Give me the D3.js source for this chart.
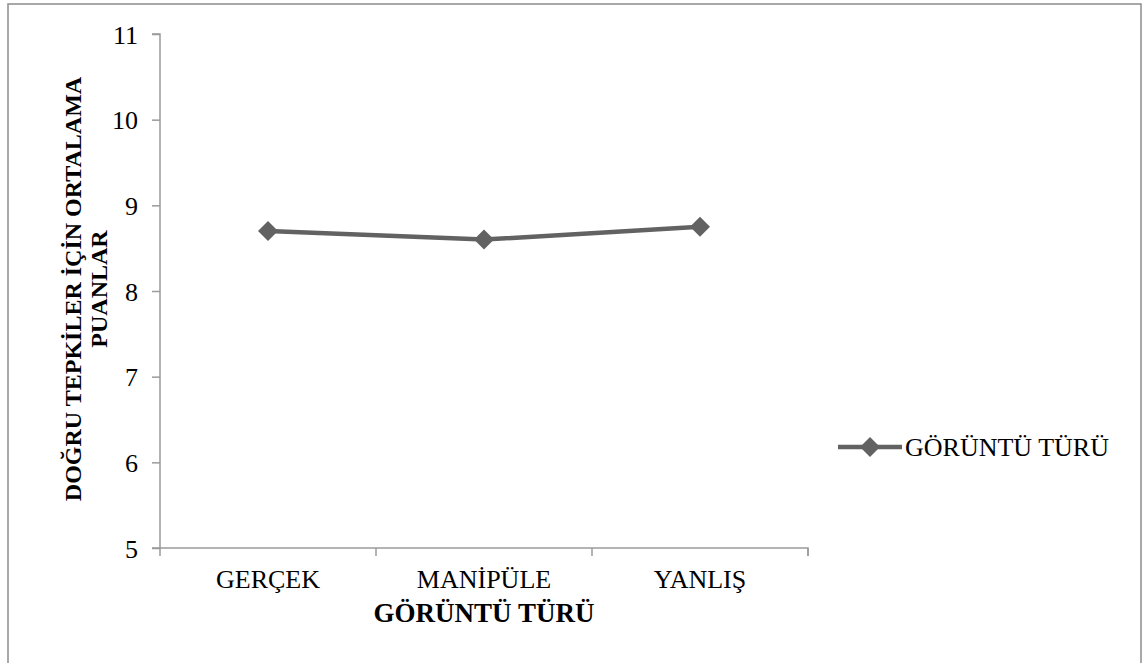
<!DOCTYPE html>
<html>
<head>
<meta charset="utf-8">
<script src="https://cdn.jsdelivr.net/npm/d3@7"></script>
<style>
  body { margin: 0; background: #fff; }
  text { font-family: "Liberation Serif", "Times New Roman", serif; fill: #000; }
</style>
</head>
<body>
<script>
// chart data
const categories = ['GERÇEK', 'MANİPÜLE', 'YANLIŞ'];
const values = [8.7, 8.6, 8.75];
const yTicks = [5, 6, 7, 8, 9, 10, 11];
const seriesName = 'GÖRÜNTÜ TÜRÜ';
const xTitle = 'GÖRÜNTÜ TÜRÜ';
const yTitle = ['DOĞRU TEPKİLER İÇİN ORTALAMA', 'PUANLAR'];

const W = 1142, H = 663;
const svg = d3.select('body').append('svg')
  .attr('width', W)
  .attr('height', H);

// outer frame
svg.append('rect')
  .attr('x', 8).attr('y', 4)
  .attr('width', 1133).attr('height', 700)
  .attr('fill', 'none')
  .attr('stroke', '#8c8c8c')
  .attr('stroke-width', 1.5);

const x = d3.scaleBand().domain(categories).range([160, 808]);
const y = d3.scaleLinear().domain([5, 11]).range([548, 34]);

const axisColor = '#9a9a9a';

// y axis
const gy = svg.append('g')
  .attr('transform', 'translate(160,0)')
  .call(d3.axisLeft(y).tickValues(yTicks).tickSize(8).tickPadding(14).tickFormat(d3.format('d')));
gy.selectAll('text').attr('font-size', 26).attr('dy', '0.35em');

// x axis: ticks on band boundaries
const gx = svg.append('g')
  .attr('transform', 'translate(0,548)')
  .call(d3.axisBottom(x).tickSize(0).tickPadding(22));
gx.selectAll('text').attr('font-size', 26);
gx.selectAll('.tick line').remove();
gx.selectAll('.boundary')
  .data(categories.map(c => x(c)).concat([x.range()[1]]))
  .enter().append('line')
  .attr('x1', d => d).attr('x2', d => d)
  .attr('y1', 0).attr('y2', 8)
  .attr('stroke', axisColor).attr('stroke-width', 1.5);

[gx, gy].forEach(g => {
  g.attr('font-family', '"Liberation Serif", serif');
  g.select('.domain').attr('stroke', axisColor).attr('stroke-width', 1.5);
  g.selectAll('.tick line').attr('stroke', axisColor).attr('stroke-width', 1.5);
  g.selectAll('text').attr('fill', '#000');
});
gy.select('.domain').attr('d', 'M-8,34H0V548H-8');
gx.select('.domain').attr('d', 'M160,0H808V8');

// series line
const lineColor = '#626262';
const pts = categories.map((c, i) => [x(c) + x.bandwidth() / 2, y(values[i])]);
svg.append('path')
  .attr('d', d3.line()(pts))
  .attr('fill', 'none')
  .attr('stroke', lineColor)
  .attr('stroke-width', 4.5);

const diamond = d3.symbol().type(d3.symbolSquare).size(200);
svg.selectAll('.marker')
  .data(pts)
  .enter().append('path')
  .attr('d', diamond)
  .attr('transform', d => `translate(${d[0]},${d[1]}) rotate(45)`)
  .attr('fill', lineColor);

// axis titles
svg.append('text')
  .attr('x', 484).attr('y', 622)
  .attr('text-anchor', 'middle')
  .attr('font-size', 27)
  .attr('font-weight', 'bold')
  .text(xTitle);

const yt = svg.append('text')
  .attr('transform', 'translate(81,289) rotate(-90)')
  .attr('text-anchor', 'middle')
  .attr('font-size', 24)
  .attr('font-weight', 'bold');
yTitle.forEach((t, i) => {
  yt.append('tspan').attr('x', 0).attr('dy', i === 0 ? 0 : 26).text(t);
});

// legend
const lg = svg.append('g').attr('transform', 'translate(838,447)');
lg.append('line')
  .attr('x1', 0).attr('x2', 64)
  .attr('stroke', lineColor).attr('stroke-width', 4.5);
lg.append('path')
  .attr('d', diamond)
  .attr('transform', 'translate(32,0) rotate(45)')
  .attr('fill', lineColor);
lg.append('text')
  .attr('x', 67).attr('y', 0).attr('dy', '0.35em')
  .attr('font-size', 26)
  .text(seriesName);
</script>
</body>
</html>
